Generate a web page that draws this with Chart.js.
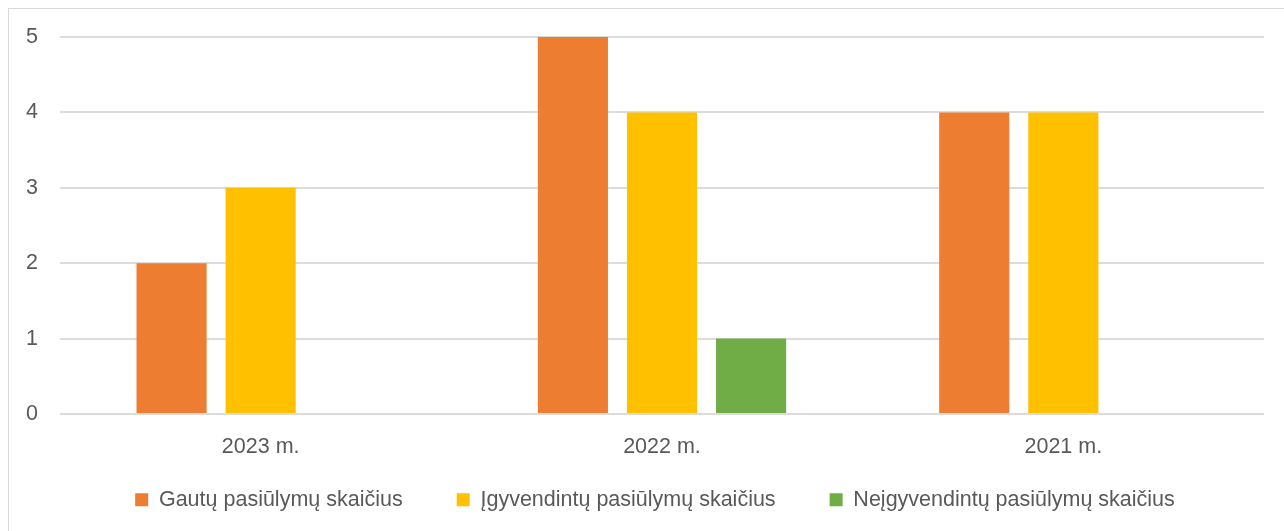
<!DOCTYPE html>
<html>
<head>
<meta charset="utf-8">
<script src="https://cdn.jsdelivr.net/npm/chart.js@4/dist/chart.umd.min.js"></script>
<style>
  html, body { margin: 0; padding: 0; background: #ffffff; overflow: hidden; }
  #wrap { position: relative; width: 1284px; height: 531px; }
  #frame { position: absolute; left: 8px; top: 8px; width: 1400px; height: 700px;
           border-left: 1px solid #d9d9d9; border-top: 1px solid #d9d9d9; }
  canvas { position: absolute; left: 0; top: 0; }
</style>
</head>
<body>
<div id="wrap">
  <div id="frame"></div>
  <canvas id="c" width="1284" height="531"></canvas>
</div>
<script>
const categories = ['2023 m.', '2022 m.', '2021 m.'];
const seriesNames = ['Gautų pasiūlymų skaičius', 'Įgyvendintų pasiūlymų skaičius', 'Neįgyvendintų pasiūlymų skaičius'];
const gautu = [2, 5, 4];
const igyvendintu = [3, 4, 4];
const neigyvendintu = [null, 1, null];
const colors = ['#ED7D31', '#FFC000', '#70AD47'];

const FONT = "'Liberation Sans', Arial, sans-serif";
const TXT = '#595959';

const shiftLegend = {
  id: 'shiftLegend',
  afterLayout(chart) {
    const lg = chart.legend;
    if (lg) { lg.left += 23; lg.right += 23; lg.top -= 22; lg.bottom -= 22; }
  }
};

new Chart(document.getElementById('c'), {
  type: 'bar',
  data: {
    labels: categories,
    datasets: [
      { label: seriesNames[0], data: gautu, backgroundColor: colors[0] },
      { label: seriesNames[1], data: igyvendintu, backgroundColor: colors[1] },
      { label: seriesNames[2], data: neigyvendintu, backgroundColor: colors[2] }
    ]
  },
  plugins: [shiftLegend],
  options: {
    responsive: false,
    animation: false,
    devicePixelRatio: 1,
    layout: { padding: { left: 0, right: 20, top: 37, bottom: -11.5 } },
    datasets: { bar: { categoryPercentage: 0.666, barPercentage: 0.787 } },
    plugins: {
      tooltip: { enabled: false },
      legend: {
        position: 'bottom',
        labels: {
          font: { family: FONT, size: 21.5 },
          color: TXT,
          boxWidth: 13,
          boxHeight: 13,
          padding: 54
        }
      }
    },
    scales: {
      x: {
        grid: { display: false, drawTicks: false },
        border: { display: false },
        ticks: { font: { family: FONT, size: 21.5 }, color: TXT, padding: 20 },
        afterFit: (s) => { s.height = 43; }
      },
      y: {
        min: 0, max: 5,
        grid: { color: '#dcdcdc', lineWidth: 2, drawTicks: false },
        border: { display: false },
        ticks: { stepSize: 1, font: { family: FONT, size: 21.5 }, color: TXT, padding: 22 },
        afterFit: (s) => { s.width = 60; }
      }
    }
  }
});
</script>
</body>
</html>
